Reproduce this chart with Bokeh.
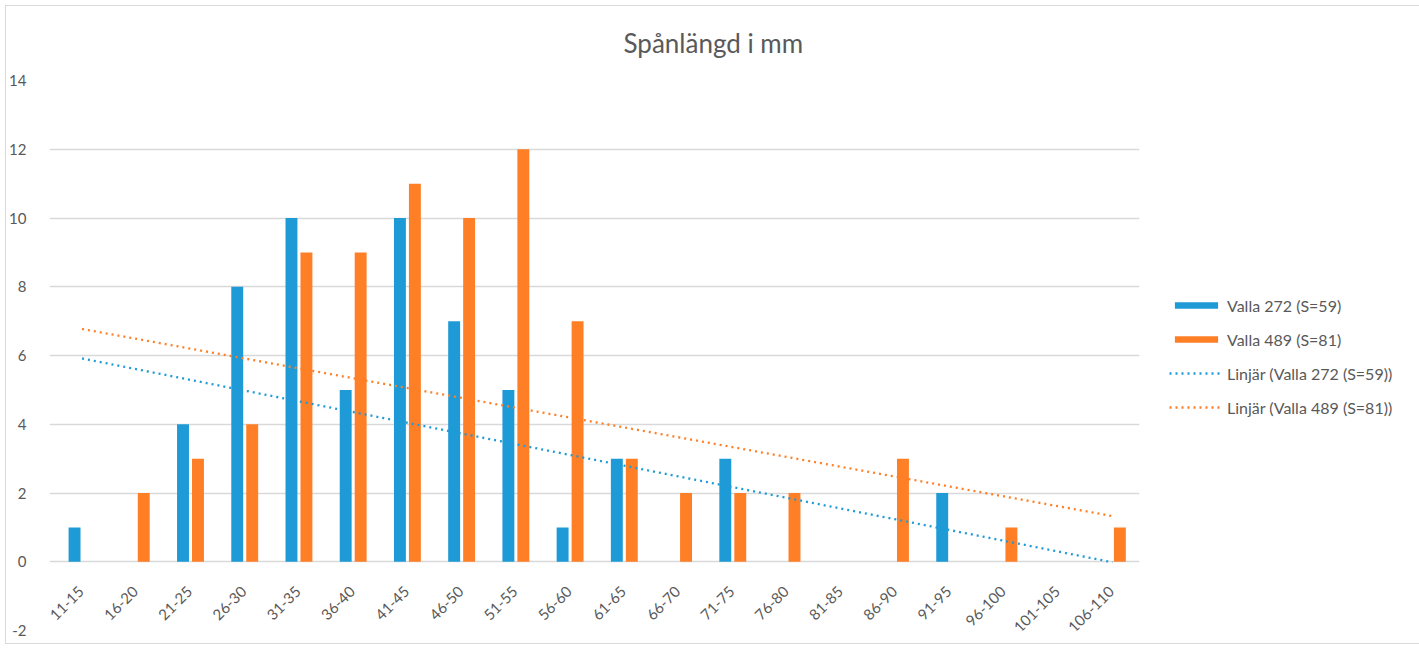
import numpy as np
from bokeh.plotting import figure
from bokeh.models import (ColumnDataSource, Range1d, FixedTicker, Legend, LegendItem, Title, LabelSet)
from bokeh.transform import dodge
from bokeh.core.properties import value
from bokeh.embed import file_html
from bokeh.resources import INLINE

categories = ["11-15", "16-20", "21-25", "26-30", "31-35", "36-40", "41-45", "46-50",
              "51-55", "56-60", "61-65", "66-70", "71-75", "76-80", "81-85", "86-90",
              "91-95", "96-100", "101-105", "106-110"]
valla_272 = [1, 0, 4, 8, 10, 5, 10, 7, 5, 1, 3, 0, 3, 0, 0, 0, 2, 0, 0, 0]
valla_489 = [0, 2, 3, 4, 9, 9, 11, 10, 12, 7, 3, 2, 2, 2, 0, 3, 0, 1, 0, 1]
y_ticks = [-2, 0, 2, 4, 6, 8, 10, 12, 14]

name_272 = "Valla 272 (S=59)"
name_489 = "Valla 489 (S=81)"
trend_272 = "Linjär (Valla 272 (S=59))"
trend_489 = "Linjär (Valla 489 (S=81))"

BLUE = "#1E9BD7"
ORANGE = "#FF7F27"
GREY = "#595959"
GRID = "#D9D9D9"
FONT = "Lato"

pos = np.arange(1, len(categories) + 1)
src = ColumnDataSource(dict(x=pos, cat=categories, a=valla_272, b=valla_489,
                            zero=[0] * len(categories)))

# linear trendlines (least squares, as in the spreadsheet)
ka, ma = np.polyfit(pos, valla_272, 1)
kb, mb = np.polyfit(pos, valla_489, 1)
tx = [pos[0], pos[-1]]
trend_src = ColumnDataSource(dict(x=tx, a=[ka * t + ma for t in tx], b=[kb * t + mb for t in tx]))

p = figure(frame_width=1090, frame_height=550, output_backend="svg", toolbar_location=None,
           x_range=Range1d(0.4, len(categories) + 0.5), y_range=Range1d(y_ticks[0], y_ticks[-1]),
           min_border_left=42, min_border_right=265, min_border_top=73, min_border_bottom=13)
p.outline_line_color = None
p.background_fill_color = "white"
p.border_fill_color = "white"
p.styles = {"border": "1px solid #D9D9D9", "margin-left": "5px", "margin-top": "5px"}

p.xaxis.visible = False
p.xgrid.visible = False
p.yaxis.ticker = FixedTicker(ticks=y_ticks)
p.ygrid.ticker = FixedTicker(ticks=y_ticks)
p.yaxis.major_label_overrides = {t: str(t) for t in y_ticks}
p.ygrid.grid_line_color = GRID
p.ygrid.grid_line_width = 1.3
p.yaxis.axis_line_color = None
p.yaxis.major_tick_line_color = None
p.yaxis.minor_tick_line_color = None
p.yaxis.major_tick_out = 0
p.yaxis.major_label_standoff = 23
p.yaxis.major_label_text_font = FONT
p.yaxis.major_label_text_font_size = "15px"
p.yaxis.major_label_text_color = GREY

title = Title(text="Spånlängd i mm", align="left", offset=574, vertical_align="top",
              text_font=FONT, text_font_size="26px", text_font_style="normal",
              text_color=GREY, standoff=40)
p.add_layout(title, "above")

ra = p.vbar(x=dodge("x", -0.138, range=p.x_range), top="a", width=0.22, source=src,
            fill_color=BLUE, line_color=None)
rb = p.vbar(x=dodge("x", 0.138, range=p.x_range), top="b", width=0.22, source=src,
            fill_color=ORANGE, line_color=None)
la = p.line(x="x", y="a", source=trend_src, line_color=BLUE, line_width=2.3,
            line_dash="2 4")
lb = p.line(x="x", y="b", source=trend_src, line_color=ORANGE, line_width=2.3,
            line_dash="2 4")

# category labels at the zero line, rotated like the spreadsheet axis
labels = LabelSet(x="x", y="zero", text="cat", source=src, angle=np.pi / 4,
                  text_align="right", text_baseline="middle", x_offset=-1, y_offset=-27,
                  text_font=value(FONT), text_font_size=value("15px"), text_color=GREY)
p.add_layout(labels)

legend = Legend(items=[LegendItem(label=name_272, renderers=[ra]),
                       LegendItem(label=name_489, renderers=[rb]),
                       LegendItem(label=trend_272, renderers=[la]),
                       LegendItem(label=trend_489, renderers=[lb])],
                location=(30, 213), orientation="vertical",
                glyph_width=54, glyph_height=8, label_height=20, spacing=14,
                label_standoff=4, margin=0, padding=0,
                border_line_color=None, background_fill_alpha=0,
                label_text_font=FONT, label_text_font_size="16px", label_text_color=GREY)
p.add_layout(legend, "right")

open("out.html", "w").write(file_html(p, INLINE))
